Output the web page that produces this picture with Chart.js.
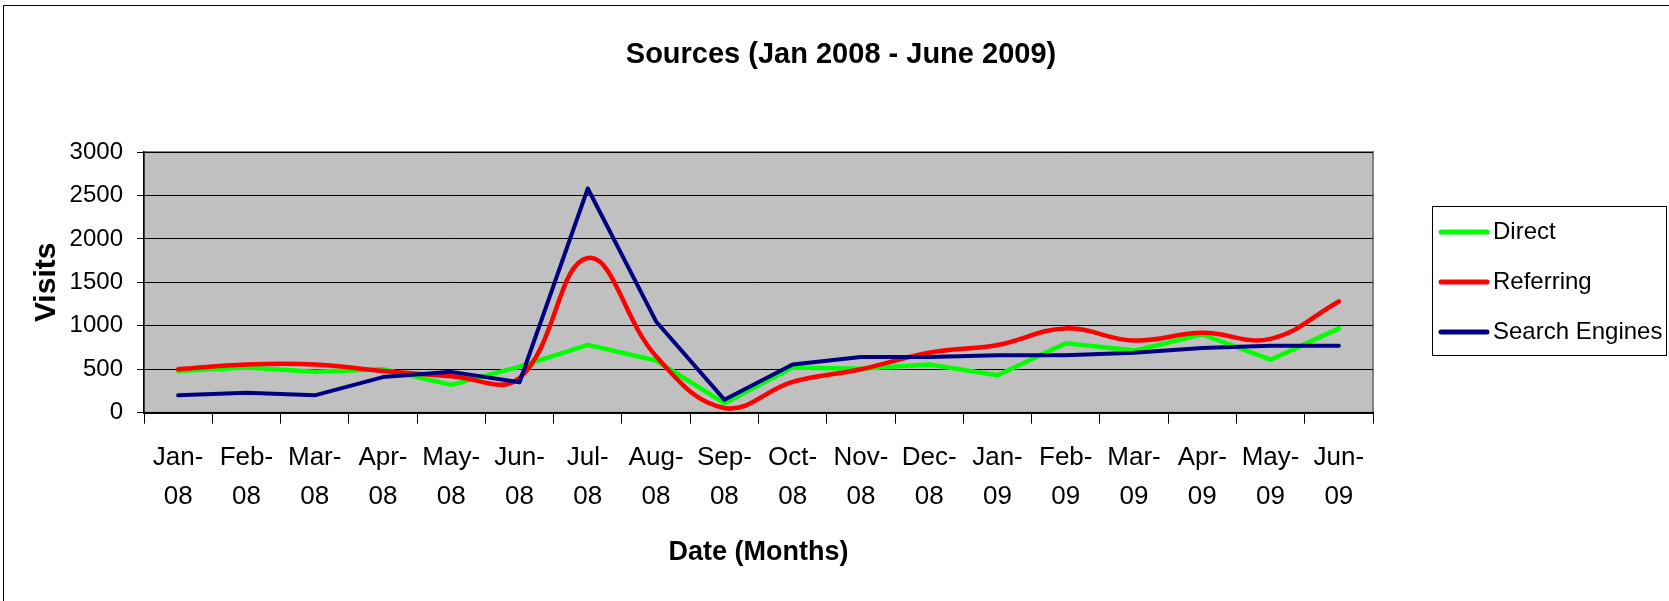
<!DOCTYPE html>
<html>
<head>
<meta charset="utf-8">
<title>Sources (Jan 2008 - June 2009)</title>
<script src="https://cdn.jsdelivr.net/npm/chart.js@4.4.1/dist/chart.umd.min.js"></script>
<style>
  html, body { margin: 0; padding: 0; background: #fff; }
  #chart-sources { display: block; }
</style>
</head>
<body>
<canvas id="chart-sources" width="1669" height="601"></canvas>
<script>
// data
const months = [
  ["Jan-", "08"], ["Feb-", "08"], ["Mar-", "08"], ["Apr-", "08"], ["May-", "08"], ["Jun-", "08"],
  ["Jul-", "08"], ["Aug-", "08"], ["Sep-", "08"], ["Oct-", "08"], ["Nov-", "08"], ["Dec-", "08"],
  ["Jan-", "09"], ["Feb-", "09"], ["Mar-", "09"], ["Apr-", "09"], ["May-", "09"], ["Jun-", "09"],
];
const direct = [480, 520, 470, 500, 320, 530, 780, 600, 110, 520, 505, 555, 430, 800, 715, 900, 610, 970];
const referring = [500, 555, 555, 480, 420, 400, 1780, 650, 55, 355, 500, 690, 780, 970, 830, 920, 850, 1280];
const searchEngines = [200, 230, 200, 410, 470, 350, 2580, 1050, 150, 555, 640, 640, 660, 660, 690, 745, 770, 770];
const yTicks = [0, 500, 1000, 1500, 2000, 2500, 3000];

const FONT = "'Liberation Sans', Arial, sans-serif";

// grey plot area, outer frame and the title
const plotFrame = {
  id: "plotFrame",
  beforeDraw(chart) {
    const { ctx, chartArea: a } = chart;
    ctx.save();
    ctx.fillStyle = "#fff";
    ctx.fillRect(0, 0, chart.width, chart.height);
    ctx.strokeStyle = "#000";
    ctx.lineWidth = 1;
    ctx.beginPath();
    ctx.moveTo(3.5, chart.height);
    ctx.lineTo(3.5, 5.5);
    ctx.lineTo(chart.width, 5.5);
    ctx.stroke();
    ctx.fillStyle = "#c0c0c0";
    ctx.fillRect(a.left, a.top, a.width, a.height);
    ctx.strokeStyle = "#808080";
    ctx.lineWidth = 2;
    ctx.strokeRect(a.left, a.top, a.width, a.height);
    ctx.fillStyle = "#000";
    ctx.font = "bold 29px " + FONT;
    ctx.textAlign = "center";
    ctx.textBaseline = "middle";
    ctx.fillText("Sources (Jan 2008 - June 2009)", 841, 55);
    ctx.restore();
  },
};

// boxed legend on the right, Excel style
const boxLegend = {
  id: "boxLegend",
  afterDraw(chart) {
    const { ctx } = chart;
    ctx.save();
    ctx.strokeStyle = "#000";
    ctx.lineWidth = 1;
    ctx.strokeRect(1432.5, 206.5, 234, 149);
    ctx.font = "24px " + FONT;
    ctx.textBaseline = "middle";
    ctx.textAlign = "left";
    chart.data.datasets.forEach((ds, i) => {
      const y = 232 + i * 50;
      ctx.strokeStyle = ds.borderColor;
      ctx.lineWidth = 5;
      ctx.lineCap = "round";
      ctx.beginPath();
      ctx.moveTo(1441, y);
      ctx.lineTo(1487, y);
      ctx.stroke();
      ctx.fillStyle = "#000";
      ctx.fillText(ds.label, 1493, y);
    });
    ctx.restore();
  },
};

const ctx = document.getElementById("chart-sources").getContext("2d");
const chart_sources = new Chart(ctx, {
  type: "line",
  data: {
    labels: months,
    datasets: [
      {
        label: "Direct",
        data: direct,
        borderColor: "#00ff00",
        borderWidth: 4.5,
        tension: 0,
        order: 3,
      },
      {
        label: "Referring",
        data: referring,
        borderColor: "#ff0000",
        borderWidth: 4.5,
        tension: 0.4,
        order: 2,
      },
      {
        label: "Search Engines",
        data: searchEngines,
        borderColor: "#000080",
        borderWidth: 4,
        tension: 0,
        order: 1,
      },
    ],
  },
  options: {
    responsive: false,
    animation: false,
    devicePixelRatio: 1,
    layout: { padding: { left: 0, right: 296, top: 152, bottom: 0 } },
    elements: {
      point: { radius: 0, hoverRadius: 0 },
      line: { borderCapStyle: "round", borderJoinStyle: "round", fill: false },
    },
    plugins: {
      legend: { display: false },
      tooltip: { enabled: false },
      title: { display: false },
    },
    scales: {
      x: {
        type: "category",
        offset: true,
        grid: { offset: true, drawOnChartArea: false, drawTicks: true, tickLength: 11, color: "#000" },
        border: { color: "#000", width: 2 },
        ticks: {
          color: "#000",
          font: { family: FONT, size: 26, lineHeight: 1.5 },
          padding: 15,
          maxRotation: 0,
          autoSkip: false,
        },
        title: {
          display: true,
          text: "Date (Months)",
          color: "#000",
          font: { family: FONT, size: 27, weight: "bold", lineHeight: 1.2 },
          padding: { top: 0, bottom: 32 },
        },
        afterFit(scale) { scale.height = 188.3; },
      },
      y: {
        min: 0,
        max: 3000,
        afterBuildTicks(axis) { axis.ticks = yTicks.map(v => ({ value: v })); },
        grid: { color: "#000", lineWidth: 1, tickLength: 7 },
        border: { color: "#000", width: 1.5 },
        ticks: {
          color: "#000",
          font: { family: FONT, size: 24 },
          padding: 14,
          callback: (value) => String(value),
        },
        title: {
          display: true,
          text: "Visits",
          color: "#000",
          font: { family: FONT, size: 30, weight: "bold", lineHeight: 1.2 },
          padding: { top: 29, bottom: 0 },
        },
        afterFit(scale) { scale.width = 144; },
      },
    },
  },
  plugins: [plotFrame, boxLegend],
});
</script>
</body>
</html>
